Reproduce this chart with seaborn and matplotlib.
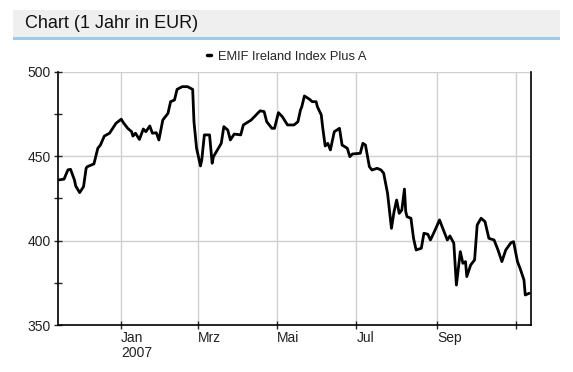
import pandas as pd
import matplotlib
matplotlib.use("Agg")
import matplotlib.pyplot as plt
from matplotlib.patches import Rectangle
from matplotlib.ticker import MultipleLocator
import seaborn as sns

# values
dates = [
    "2006-11-14", "2006-11-18", "2006-11-21", "2006-11-23", "2006-11-26", "2006-11-27",
    "2006-11-30", "2006-12-03", "2006-12-05", "2006-12-06", "2006-12-11", "2006-12-14",
    "2006-12-16", "2006-12-19", "2006-12-23", "2006-12-28", "2007-01-01", "2007-01-03",
    "2007-01-06", "2007-01-09", "2007-01-10", "2007-01-12", "2007-01-15", "2007-01-18",
    "2007-01-20", "2007-01-23", "2007-01-25", "2007-01-28", "2007-01-30", "2007-02-02",
    "2007-02-06", "2007-02-08", "2007-02-11", "2007-02-13", "2007-02-17", "2007-02-21",
    "2007-02-25", "2007-02-26", "2007-02-28", "2007-03-03", "2007-03-04", "2007-03-06",
    "2007-03-10", "2007-03-12", "2007-03-13", "2007-03-16", "2007-03-19", "2007-03-21",
    "2007-03-24", "2007-03-26", "2007-03-29", "2007-04-03", "2007-04-05", "2007-04-11",
    "2007-04-16", "2007-04-18", "2007-04-21", "2007-04-23", "2007-04-27", "2007-04-29",
    "2007-05-02", "2007-05-05", "2007-05-09", "2007-05-14", "2007-05-17", "2007-05-19",
    "2007-05-20", "2007-05-22", "2007-05-26", "2007-05-28", "2007-05-31", "2007-06-01",
    "2007-06-04", "2007-06-05", "2007-06-07", "2007-06-09", "2007-06-11", "2007-06-14",
    "2007-06-18", "2007-06-20", "2007-06-24", "2007-06-26", "2007-06-28", "2007-07-04",
    "2007-07-06", "2007-07-08", "2007-07-11", "2007-07-13", "2007-07-17", "2007-07-20",
    "2007-07-22", "2007-07-25", "2007-07-27", "2007-07-28", "2007-07-30", "2007-08-01",
    "2007-08-03", "2007-08-05", "2007-08-07", "2007-08-08", "2007-08-09", "2007-08-12",
    "2007-08-14", "2007-08-16", "2007-08-20", "2007-08-22", "2007-08-25", "2007-08-27",
    "2007-08-30", "2007-09-03", "2007-09-06", "2007-09-09", "2007-09-11", "2007-09-14",
    "2007-09-16", "2007-09-19", "2007-09-21", "2007-09-23", "2007-09-24", "2007-09-27",
    "2007-09-30", "2007-10-02", "2007-10-05", "2007-10-08", "2007-10-11", "2007-10-15",
    "2007-10-18", "2007-10-21", "2007-10-24", "2007-10-28", "2007-10-30", "2007-11-02",
    "2007-11-04", "2007-11-07", "2007-11-08", "2007-11-11",
]
values = [
    436.0, 436.5, 442.0, 442.3, 436.0, 432.4,
    428.5, 432.0, 443.0, 443.9, 445.5, 454.8,
    456.7, 462.0, 463.7, 469.6, 472.0, 469.6,
    466.6, 464.6, 462.0, 463.7, 460.0, 466.2,
    464.6, 468.0, 463.7, 464.0, 459.7, 471.5,
    475.5, 482.4, 483.4, 489.7, 491.3, 491.3,
    489.7, 470.5, 454.8, 444.3, 447.8, 462.7,
    462.7, 445.9, 449.8, 453.8, 457.7, 467.6,
    465.6, 459.7, 463.2, 462.7, 468.6, 471.5,
    475.5, 477.0, 476.5, 470.5, 466.6, 466.6,
    475.9, 473.5, 468.6, 468.6, 470.5, 477.5,
    479.4, 485.8, 483.8, 482.4, 482.4, 479.4,
    474.5, 467.6, 456.1, 457.7, 453.8, 464.6,
    466.6, 456.7, 454.8, 449.8, 451.4, 451.8,
    457.7, 456.7, 443.9, 441.9, 442.9, 441.9,
    440.0, 428.1, 414.2, 407.3, 417.2, 424.1,
    416.2, 418.2, 430.6, 417.2, 414.2, 413.3,
    401.4, 394.5, 395.5, 404.4, 403.8, 400.4,
    405.3, 412.3, 406.3, 400.4, 402.8, 398.5,
    373.7, 393.5, 386.6, 387.6, 378.7, 385.6,
    388.6, 409.3, 413.3, 411.3, 401.4, 400.4,
    394.5, 387.6, 394.5, 398.8, 399.4, 387.6,
    383.6, 376.7, 367.8, 368.8,
]
series_name = "EMIF Ireland Index Plus A"
tick_dates = ["2007-01-01", "2007-03-01", "2007-05-01", "2007-07-01", "2007-09-01", "2007-11-01"]
tick_labels = ["Jan\n2007", "Mrz", "Mai", "Jul", "Sep", ""]

df = pd.DataFrame({"Datum": pd.to_datetime(dates), "Kurs": values})

sns.set_style("white")
plt.rcParams["font.family"] = ["Liberation Sans", "DejaVu Sans"]

fig = plt.figure(figsize=(5.73, 3.72), dpi=100)
ax = fig.add_axes([0.1012, 0.1263, 0.8255, 0.6802])

sns.lineplot(data=df, x="Datum", y="Kurs", color="black", linewidth=2.0,
             label=series_name, ax=ax)

ax.set_xlim(pd.Timestamp("2006-11-13 08:00"), pd.Timestamp("2007-11-12 10:00"))
ax.set_ylim(350, 500)
ax.set_xticks(pd.to_datetime(tick_dates))
ax.set_xticklabels(tick_labels, ha="left", fontsize=10, color="#222222",
                   linespacing=1.1)
ax.yaxis.set_major_locator(MultipleLocator(50))
ax.yaxis.set_minor_locator(MultipleLocator(25))
ax.tick_params(axis="y", which="both", direction="inout", length=6, width=1,
               labelsize=10, labelcolor="#222222", pad=2, left=True)
ax.tick_params(axis="x", which="major", direction="inout", length=6, width=1,
               pad=1, bottom=True)
ax.set_xlabel("")
ax.set_ylabel("")

ax.grid(True, which="major", color="#d0d0d0", linewidth=1)
for side in ["left", "bottom", "right"]:
    ax.spines[side].set_color("black")
    ax.spines[side].set_linewidth(1.2)
ax.spines["top"].set_visible(False)

# legend sits a bit left of the plot centre in the original
leg = ax.legend(loc="lower center", bbox_to_anchor=(0.483, 1.0), frameon=False,
                handlelength=0.35, handletextpad=0.5, fontsize=9.3,
                borderaxespad=0.3)
for h in leg.get_lines():
    h.set_linewidth(2.5)

# header band
fig.patches.append(Rectangle((0.0227, 0.9005), 0.9546, 0.0726, transform=fig.transFigure,
                             facecolor="#efefef", edgecolor="none", zorder=0))
fig.patches.append(Rectangle((0.0227, 0.8925), 0.9546, 0.0085, transform=fig.transFigure,
                             facecolor="#9fcaea", edgecolor="none", zorder=0))
fig.text(0.0436, 0.937, "Chart (1 Jahr in EUR)", fontsize=13, va="center",
         ha="left", color="#111111")

fig.savefig("out.png", dpi=100, facecolor="white")
